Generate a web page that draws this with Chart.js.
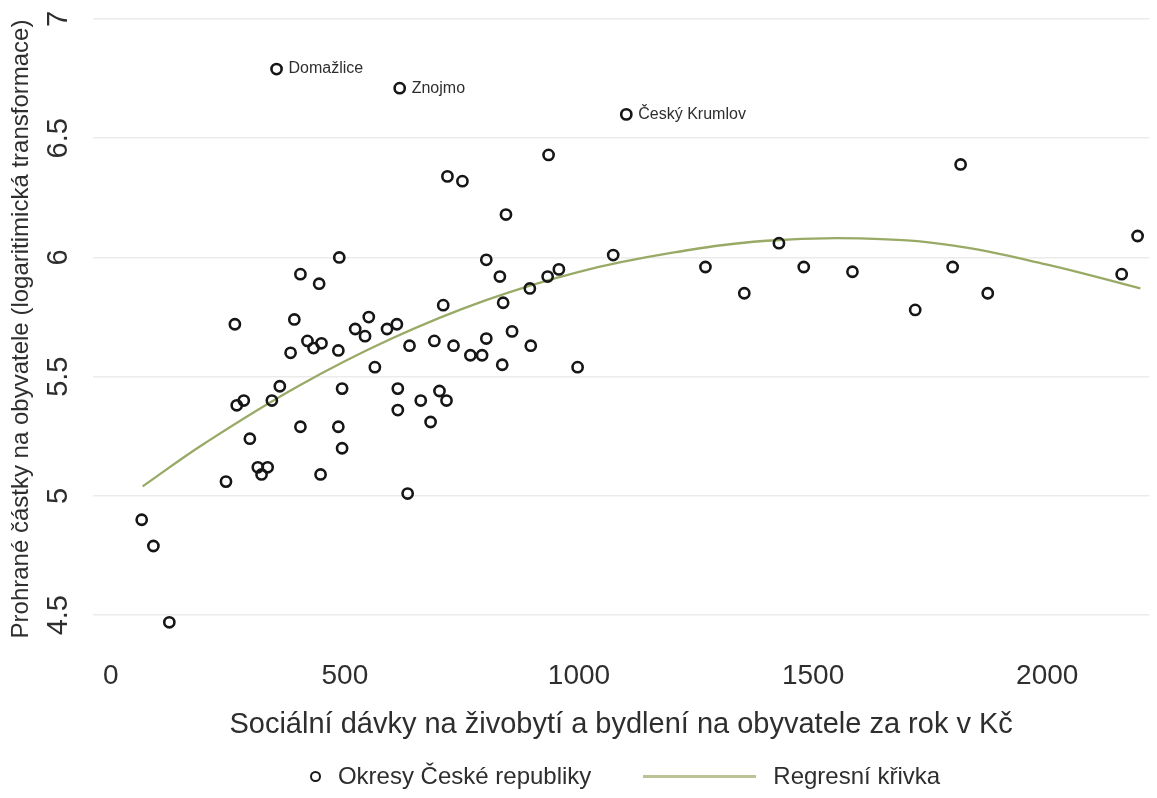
<!DOCTYPE html>
<html lang="cs">
<head>
<meta charset="utf-8">
<title>Sociální dávky a prohrané částky podle okresů</title>
<script src="https://cdn.jsdelivr.net/npm/chart.js@4.4.1/dist/chart.umd.min.js"></script>
<style>
  body { margin: 0; background: #fff; font-family: "Liberation Sans", Arial, sans-serif; }
  .wrap { position: relative; width: 1157px; height: 798px; }
  #legend {
    position: absolute; left: 93px; top: 758px; width: 1064px; height: 36px;
    display: flex; justify-content: center; align-items: center;
    font-size: 24px; color: #2e2e2e;
  }
  #legend .item { display: flex; align-items: center; margin: 0 26px; }
  #legend .dot { width: 7px; height: 7px; border: 2.5px solid #1a1a1a; border-radius: 50%; margin-right: 17px; }
  #legend .line { width: 113px; height: 3px; background: #b9c394; margin-right: 17px; }
</style>
</head>
<body>
<div class="wrap">
  <canvas id="chart" width="1157" height="798"></canvas>
  <div id="legend"></div>
</div>

<script>
// okresy: sociální dávky (Kč / obyvatele / rok) a log prohraných částek
const okresX = [66, 91, 125, 246, 265, 269, 284, 297, 314, 322, 335, 344, 361, 354, 384, 392, 405, 405, 420, 433,
                445, 448, 450, 486, 488, 486, 494, 494, 522, 543, 551, 564, 590, 611, 613, 613, 617, 638, 634, 662,
                683, 691, 702, 710, 717, 719, 732, 751, 768, 793, 802, 802, 831, 836, 838, 844, 857, 895, 897, 933,
                935, 957, 997, 1073, 1101, 1270, 1353, 1427, 1480, 1584, 1718, 1798, 1815, 1873, 2159, 2193];
const okresY = [4.90, 4.79, 4.47, 5.06, 5.72, 5.38, 5.40, 5.24, 5.12, 5.09, 5.12, 5.40, 5.46, 6.79, 5.60, 5.74, 5.93, 5.29, 5.65, 5.62,
                5.89, 5.09, 5.64, 5.61, 6.00, 5.29, 5.20, 5.45, 5.70, 5.67, 5.75, 5.54, 5.70, 5.72, 5.45, 5.36, 6.71, 5.63, 5.01, 5.40,
                5.31, 5.65, 5.44, 5.80, 5.40, 6.34, 5.63, 6.32, 5.59, 5.59, 5.66, 5.99, 5.92, 5.55, 5.81, 6.18, 5.69, 5.87, 5.63, 5.92,
                6.43, 5.95, 5.54, 6.01, 6.60, 5.96, 5.85, 6.06, 5.96, 5.94, 5.78, 5.96, 6.39, 5.85, 5.93, 6.09];

// popsané okresy (index do okresX / okresY)
const popisIndex = [13, 36, 64];
const popisText = ['Domažlice', 'Znojmo', 'Český Krumlov'];

// regresní křivka
const krivkaX = [68, 200, 400, 600, 800, 1000, 1200, 1400, 1600, 1800, 2000, 2199];
const krivkaY = [5.04, 5.22, 5.46, 5.66, 5.82, 5.94, 6.02, 6.07, 6.08, 6.05, 5.97, 5.87];

const xTicks = [0, 500, 1000, 1500, 2000];
const yTicks = [4.5, 5, 5.5, 6, 6.5, 7];

const FONT = '"Liberation Sans", Arial, sans-serif';
const TEXT = '#2e2e2e';

// popisky y osy jsou otočené o 90°
const otoceneYTicks = {
  id: 'otoceneYTicks',
  afterDraw(chart) {
    const y = chart.scales.y, ctx = chart.ctx;
    ctx.save();
    ctx.font = '29px ' + FONT;
    ctx.fillStyle = TEXT;
    ctx.textAlign = 'center';
    ctx.textBaseline = 'middle';
    yTicks.forEach(v => {
      ctx.save();
      ctx.translate(59, y.getPixelForValue(v));
      ctx.rotate(-Math.PI / 2);
      ctx.fillText(String(v), 0, 0);
      ctx.restore();
    });
    ctx.restore();
  }
};

// jména vybraných okresů vedle bodů
const popisyBodu = {
  id: 'popisyBodu',
  afterDatasetsDraw(chart) {
    const meta = chart.getDatasetMeta(1), ctx = chart.ctx;
    ctx.save();
    ctx.font = '16px ' + FONT;
    ctx.fillStyle = TEXT;
    ctx.textAlign = 'left';
    ctx.textBaseline = 'middle';
    popisIndex.forEach((i, k) => {
      const el = meta.data[i];
      ctx.fillText(popisText[k], el.x + 12, el.y);
    });
    ctx.restore();
  }
};

const body = okresX.map((x, i) => ({ x: x, y: okresY[i] }));
const krivka = krivkaX.map((x, i) => ({ x: x, y: krivkaY[i] }));

const chart = new Chart(document.getElementById('chart'), {
  type: 'scatter',
  data: {
    datasets: [{
      label: 'Regresní křivka',
      type: 'line',
      data: krivka,
      borderColor: '#98aa66',
      borderWidth: 2.3,
      pointRadius: 0,
      tension: 0.4,
      fill: false,
      order: 2
    }, {
      label: 'Okresy České republiky',
      data: body,
      pointStyle: 'circle',
      pointRadius: 5.1,
      pointBorderWidth: 2.6,
      borderColor: '#161616',
      backgroundColor: 'rgba(0,0,0,0)',
      order: 1
    }]
  },
  options: {
    responsive: false,
    animation: false,
    layout: { padding: { left: 0, right: 0, top: 19, bottom: 52 } },
    plugins: {
      legend: { display: false },
      tooltip: { enabled: false }
    },
    scales: {
      x: {
        type: 'linear',
        min: -38,
        max: 2218,
        afterBuildTicks(s) { s.ticks = xTicks.map(v => ({ value: v })); },
        afterFit(s) { s.height = 107; },
        grid: { display: false, drawTicks: false },
        border: { display: false },
        ticks: {
          padding: 20,
          color: TEXT,
          font: { family: FONT, size: 28 },
          callback: v => String(v)
        },
        title: {
          display: true,
          text: 'Sociální dávky na živobytí a bydlení na obyvatele za rok v Kč',
          color: TEXT,
          font: { family: FONT, size: 29 }
        }
      },
      y: {
        min: 4.4,
        max: 7,
        afterBuildTicks(s) { s.ticks = yTicks.map(v => ({ value: v })); },
        afterFit(s) { s.width = 93; },
        grid: { color: '#ebebeb', lineWidth: 1.6, drawTicks: false },
        border: { display: false },
        ticks: { display: false },
        title: {
          display: true,
          text: 'Prohrané částky na obyvatele (logaritimická transformace)',
          color: TEXT,
          font: { family: FONT, size: 24 },
          padding: { top: 7, bottom: 0 }
        }
      }
    }
  },
  plugins: [otoceneYTicks, popisyBodu]
});

// legenda pod grafem
const legenda = document.getElementById('legend');
[1, 0].forEach(i => {
  const ds = chart.data.datasets[i];
  const item = document.createElement('div');
  item.className = 'item';
  const mark = document.createElement('span');
  mark.className = ds.type === 'line' ? 'line' : 'dot';
  const txt = document.createElement('span');
  txt.textContent = ds.label;
  item.appendChild(mark);
  item.appendChild(txt);
  legenda.appendChild(item);
});
</script>
</body>
</html>
